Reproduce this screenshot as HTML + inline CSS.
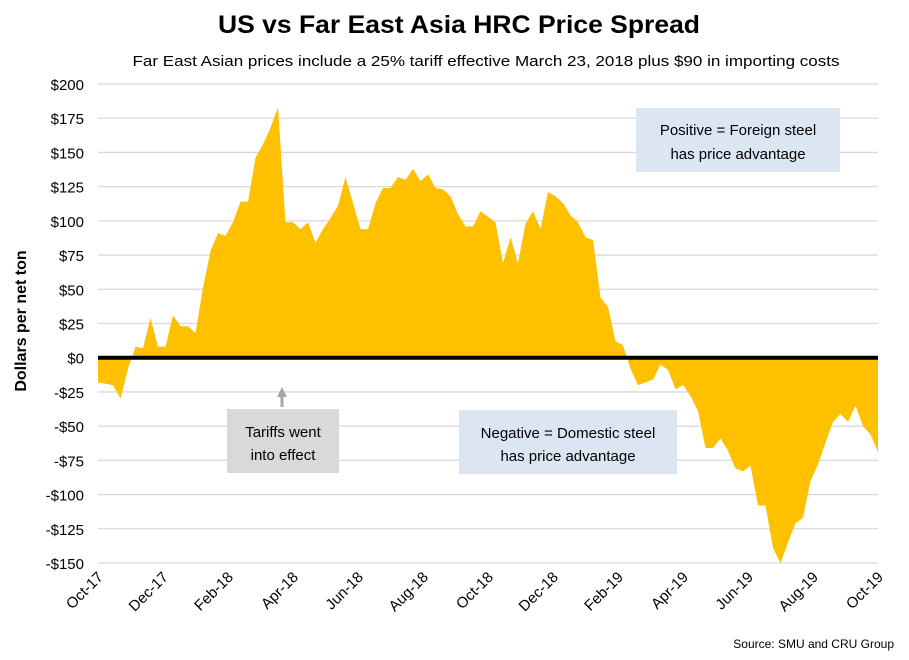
<!DOCTYPE html>
<html><head><meta charset="utf-8"><style>
body{margin:0;background:#fff;}
svg{display:block;font-family:"Liberation Sans",sans-serif;}
</style></head><body>
<svg id="chart" width="909" height="660" viewBox="0 0 909 660">
<text x="459" y="33" text-anchor="middle" font-size="25" font-weight="bold" textLength="482" lengthAdjust="spacingAndGlyphs">US vs Far East Asia HRC Price Spread</text>
<text x="486" y="66" text-anchor="middle" font-size="15" textLength="707" lengthAdjust="spacingAndGlyphs">Far East Asian prices include a 25% tariff effective March 23, 2018 plus $90 in importing costs</text>
<g id="grid"></g>
<g id="yticks"></g>
<g id="xticks"></g>
<g id="series"></g>
<text transform="translate(26,321) rotate(-90)" text-anchor="middle" font-size="16" font-weight="bold">Dollars per net ton</text>
<g>
<rect x="636" y="108" width="204" height="64" fill="#dce6f2"/>
<text x="738" y="135" text-anchor="middle" font-size="15">Positive = Foreign steel</text>
<text x="738" y="159" text-anchor="middle" font-size="15">has price advantage</text>
</g>
<g>
<rect x="459" y="410" width="218" height="64" fill="#dce6f2"/>
<text x="568" y="438" text-anchor="middle" font-size="15">Negative = Domestic steel</text>
<text x="568" y="461" text-anchor="middle" font-size="15">has price advantage</text>
</g>
<g>
<rect x="227" y="409" width="112" height="64" fill="#d9d9d9"/>
<text x="283" y="437" text-anchor="middle" font-size="15">Tariffs went</text>
<text x="283" y="460" text-anchor="middle" font-size="15">into effect</text>
<line x1="282" y1="407" x2="282" y2="396" stroke="#a6a6a6" stroke-width="3"/>
<polygon points="277,397 287,397 282,387" fill="#a6a6a6"/>
</g>
<text x="894" y="648" text-anchor="end" font-size="12">Source: SMU and CRU Group</text>
</svg>
<script>
const yTicks = [200,175,150,125,100,75,50,25,0,-25,-50,-75,-100,-125,-150];
const xLabels = ["Oct-17","Dec-17","Feb-18","Apr-18","Jun-18","Aug-18","Oct-18","Dec-18","Feb-19","Apr-19","Jun-19","Aug-19","Oct-19"];
const spreadValues = [-18,-19,-20,-30,-8,8,7,29,8,8,31,23,23,18,51,78,91,89,99,114,114,146,156,168,183,99,99,94,99,84,94,102,111,132,113,94,94,113,124,124,132,130,138,129,134,124,123,118,105,96,96,107,103,99,69,88,69,98,107,94,121,118,113,104,99,88,86,44,37,12,9,-8,-20,-18,-16,-5,-9,-23,-20,-28,-39,-66,-66,-59,-68,-81,-83,-79,-108,-108,-139,-150,-135,-121,-117,-90,-78,-62,-47,-41,-47,-35,-50,-56,-69];

const NS='http://www.w3.org/2000/svg';
const X0=98,X1=878,Y0=563,Y1=84,VMIN=-150,VMAX=200;
const yScale=v=>Y0-(v-VMIN)/(VMAX-VMIN)*(Y0-Y1);
const xIdx=i=>X0+i/(spreadValues.length-1)*(X1-X0);
const xLab=i=>X0+i/(xLabels.length-1)*(X1-X0);
function mk(t,a){const e=document.createElementNS(NS,t);for(const k in a)e.setAttribute(k,a[k]);return e;}
const grid=document.getElementById('grid'),yt=document.getElementById('yticks'),xt=document.getElementById('xticks'),ser=document.getElementById('series');
yTicks.forEach(v=>{
  const l=mk('line',{x1:X0,x2:X1,y1:yScale(v),y2:yScale(v),stroke:'#d9d9d9','stroke-width':1.3});
  
  
  grid.appendChild(l);
  const t=mk('text',{x:84,y:yScale(v)+6,'text-anchor':'end','font-size':15});
  
  
  t.textContent=(v<0?'-$':'$')+Math.abs(v);
  yt.appendChild(t);
});
xLabels.forEach((s,i)=>{
  const x=xLab(i);
  const t=mk('text',{x:0,y:0,'text-anchor':'end','font-size':15,transform:`translate(${x+6},${578}) rotate(-45)`});
  
  
  t.textContent=s;
  xt.appendChild(t);
});
let d=`M${X0},${yScale(0)}`;
spreadValues.forEach((v,i)=>{d+=` L${xIdx(i).toFixed(2)},${yScale(v).toFixed(2)}`;});
d+=` L${X1},${yScale(0)} Z`;
const area=mk('path',{d:d,fill:'#ffc000'});


ser.appendChild(area);
const zl=mk('line',{x1:X0,x2:X1,y1:yScale(0),y2:yScale(0),stroke:'#000','stroke-width':4});


ser.appendChild(zl);
</script>
</body></html>
